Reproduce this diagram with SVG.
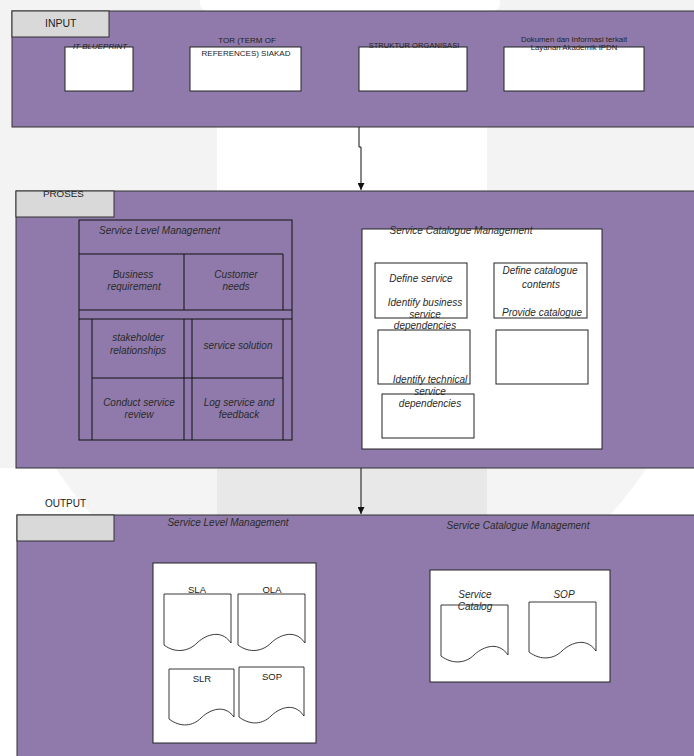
<svg xmlns="http://www.w3.org/2000/svg" width="694" height="756" viewBox="0 0 694 756">
<defs>
<style>
.panel{fill:#8f7aab;stroke:#333;stroke-width:1}
.tab{fill:#d9d9d9;stroke:#333;stroke-width:1}
.wbox{fill:#fff;stroke:#222;stroke-width:1}
.cell{fill:none;stroke:#111;stroke-width:1}
.doc{fill:#fff;stroke:#222;stroke-width:0.9}
.t{font-family:"Liberation Sans",Arial,sans-serif;fill:#222}
.it{font-family:"Liberation Sans",Arial,sans-serif;font-style:italic;fill:#2a2a2a;font-size:10px;text-anchor:middle}
.c{text-anchor:middle}
.conn{fill:none;stroke:#111;stroke-width:1}
</style>
<marker id="ah" viewBox="0 0 10 10" refX="10" refY="5" markerWidth="7" markerHeight="7" markerUnits="userSpaceOnUse" orient="auto">
<path d="M0,0 L10,5 L0,10 Z" fill="#111"/>
</marker>
<clipPath id="lowgap"><rect x="0" y="468" width="694" height="47"/></clipPath>
</defs>

<g id="watermark">
<rect x="0" y="0" width="694" height="470" fill="#f3f3f3"/>
<rect x="200" y="-10" width="300" height="21" rx="8" fill="#fff"/>
<rect x="217" y="127" width="270" height="64" fill="#fff"/>
<rect x="0" y="468" width="694" height="288" fill="#fff"/>
<circle cx="351" cy="275" r="353" fill="#f4f4f4" clip-path="url(#lowgap)"/>
<rect x="217" y="468" width="270" height="47" fill="#e8e8e8"/>
</g>

<g id="input">
<rect class="panel" x="12" y="11" width="690" height="116"/>
<rect class="tab" x="12" y="11" width="97" height="26"/>
<text class="t" x="45" y="27" font-size="10.5">INPUT</text>
</g>
<g id="in-itblueprint">
<rect class="wbox" x="65" y="47" width="68" height="44"/>
<text class="t c" x="100" y="49" font-size="8" font-style="italic">IT BLUEPRINT</text>
</g>
<g id="in-tor">
<rect class="wbox" x="190" y="47" width="111" height="44"/>
<text class="t c" x="247" y="43" font-size="8">TOR (TERM OF</text>
<text class="t c" x="246" y="56" font-size="8">REFERENCES) SIAKAD</text>
</g>
<g id="in-struktur">
<rect class="wbox" x="359" y="47" width="108" height="44"/>
<text class="t c" x="414" y="48" font-size="7.6">STRUKTUR ORGANISASI</text>
</g>
<g id="in-dokumen">
<rect class="wbox" x="504" y="47" width="140" height="44"/>
<text class="t c" x="574" y="42" font-size="7.8">Dokumen dan Informasi terkait</text>
<text class="t c" x="574" y="50" font-size="7.8">Layanan Akademik IPDN</text>
</g>

<g id="proses">
<rect class="panel" x="16" y="191" width="686" height="277"/>
<rect class="tab" x="16" y="191" width="98" height="26"/>
<text class="t" x="43" y="197" font-size="9.8">PROSES</text>
</g>

<g id="proses-slm">
<rect class="cell" x="79" y="220" width="213" height="220"/>
<text class="it" x="99" y="234" text-anchor="start" style="text-anchor:start">Service Level  Management</text>
<path class="cell" d="M79,254 H283 V310 M184,254 V310 M79,310 H292 M79,319 H292 M92,319 V440 M184,319 V440 M192,319 V440 M283,319 V440 M92,378 H283"/>
<text class="it" x="133" y="278">Business</text>
<text class="it" x="134" y="290">requirement</text>
<text class="it" x="236" y="278">Customer</text>
<text class="it" x="236" y="290">needs</text>
<text class="it" x="138" y="341">stakeholder</text>
<text class="it" x="138" y="354">relationships</text>
<text class="it" x="238" y="349">service solution</text>
<text class="it" x="139" y="406">Conduct service</text>
<text class="it" x="139" y="418">review</text>
<text class="it" x="239" y="406">Log service and</text>
<text class="it" x="239" y="418">feedback</text>
</g>

<g id="proses-scm">
<rect class="wbox" x="362" y="229" width="240" height="220"/>
<text class="it" x="461" y="234">Service Catalogue Management</text>
<rect class="wbox" x="375" y="263" width="92" height="55"/>
<rect class="wbox" x="494" y="263" width="93" height="55"/>
<rect class="wbox" x="378" y="330" width="92" height="54"/>
<rect class="wbox" x="496" y="330" width="92" height="54"/>
<rect class="wbox" x="382" y="394" width="92" height="44"/>
<text class="it" x="421" y="282">Define  service</text>
<text class="it" x="425" y="306">Identify business</text>
<text class="it" x="425" y="318">service</text>
<text class="it" x="425" y="329">dependencies</text>
<text class="it" x="540" y="274">Define  catalogue</text>
<text class="it" x="541" y="288">contents</text>
<text class="it" x="542" y="316">Provide catalogue</text>
<text class="it" x="430" y="383">Identify technical</text>
<text class="it" x="430" y="395">service</text>
<text class="it" x="430" y="407">dependencies</text>
</g>

<g id="output">
<rect class="panel" x="17" y="515" width="685" height="250"/>
<rect class="tab" x="17" y="515" width="97" height="26"/>
<text class="t" x="45" y="507" font-size="10">OUTPUT</text>
<text class="it" x="228" y="526">Service Level  Management</text>
<text class="it" x="518" y="529">Service Catalogue Management</text>
</g>

<g id="output-slm">
<rect class="wbox" x="153" y="563" width="163" height="180"/>
<path class="doc" d="M164,594 H231 V643 C220,627 203,637 197,643 C189,651 176,654 164,645 Z"/>
<path class="doc" d="M238,594 H305 V643 C294,627 277,637 271,643 C263,651 250,654 238,645 Z"/>
<path class="doc" d="M169,669 H234 V717 C223,702 207,712 201,718 C193,726 181,728 169,719 Z"/>
<path class="doc" d="M239,667 H304 V716 C293,700 277,710 271,716 C263,724 251,726 239,717 Z"/>
<text class="t c" x="197" y="593" font-size="9.5">SLA</text>
<text class="t c" x="272" y="593" font-size="9.5">OLA</text>
<text class="t c" x="202" y="682" font-size="9.5">SLR</text>
<text class="t c" x="272" y="680" font-size="9.5">SOP</text>
</g>

<g id="output-scm">
<rect class="wbox" x="430" y="570" width="180" height="112" stroke-width="1.3"/>
<path class="doc" d="M441,605 H508 V655 C497,639 480,649 474,655 C466,663 453,665 441,656 Z"/>
<path class="doc" d="M529,602 H596 V651 C585,635 568,645 562,651 C554,659 541,661 529,652 Z"/>
<text class="it" x="475" y="598">Service</text>
<text class="it" x="475" y="610">Catalog</text>
<text class="it" x="564" y="598">SOP</text>
</g>

<g id="connectors">
<path class="conn" d="M359,127 V147 H361 V190" marker-end="url(#ah)"/>
<path class="conn" d="M361,468 V514" marker-end="url(#ah)"/>
</g>
</svg>
